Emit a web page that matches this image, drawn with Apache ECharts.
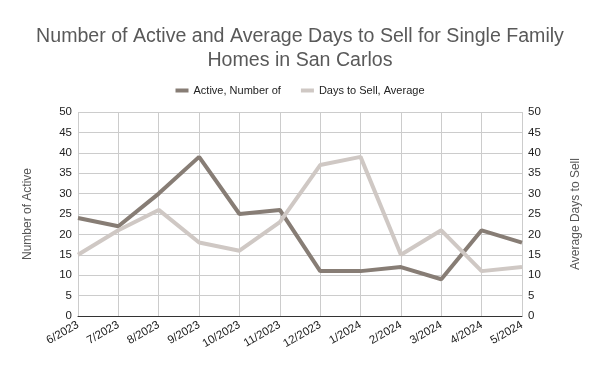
<!DOCTYPE html>
<html><head><meta charset="utf-8">
<script src="https://cdn.jsdelivr.net/npm/echarts@6/dist/echarts.min.js"></script>
<style>html,body{margin:0;padding:0;background:#fff}#c{width:600px;height:371px}</style>
</head><body><div id="c"></div>
<script>
const categories = ['6/2023','7/2023','8/2023','9/2023','10/2023','11/2023','12/2023','1/2024','2/2024','3/2024','4/2024','5/2024'];
const activeNumber = [24,22,30,39,25,26,11,11,12,9,21,18];
const daysToSell = [15,21,26,18,16,23,37,39,15,21,11,12];
const yTicks = {min:0, max:50, interval:5};

const chart = echarts.init(document.getElementById('c'));
const font = 'Liberation Sans, Arial, sans-serif';
chart.setOption({
  animation:false,
  backgroundColor:'#fff',
  title:{
    text:'Number of Active and Average Days to Sell for Single Family\nHomes in San Carlos',
    left:'center', top:20,
    textStyle:{fontFamily:font, fontSize:19.6, fontWeight:'normal', color:'#595959', lineHeight:24}
  },
  legend:{
    top:80, left:'center', itemWidth:13, itemHeight:4, itemGap:20, icon:'rect',
    textStyle:{fontFamily:font, fontSize:11, color:'#222'},
    data:['Active, Number of','Days to Sell, Average']
  },
  grid:{left:78, right:78, top:112, bottom:55, containLabel:false},
  xAxis:{
    type:'category', data:categories, boundaryGap:false,
    axisLine:{lineStyle:{color:'#333', width:1}},
    axisTick:{show:false},
    splitLine:{show:true, lineStyle:{color:'#ccc'}},
    axisLabel:{rotate:30, fontFamily:font, fontSize:11.5, color:'#222', margin:8, interval:0}
  },
  yAxis:[{
    type:'value', min:yTicks.min, max:yTicks.max, interval:yTicks.interval,
    name:'Number of Active', nameLocation:'middle', nameGap:44,
    nameTextStyle:{fontFamily:font, fontSize:12, color:'#555'},
    axisLine:{show:false}, axisTick:{show:false},
    splitLine:{lineStyle:{color:'#ccc'}},
    axisLabel:{fontFamily:font, fontSize:11.5, color:'#222', margin:6}
  },{
    type:'value', min:yTicks.min, max:yTicks.max, interval:yTicks.interval,
    name:'Average Days to Sell', nameLocation:'middle', nameGap:48,
    nameTextStyle:{fontFamily:font, fontSize:12, color:'#555'},
    axisLine:{show:false}, axisTick:{show:false},
    splitLine:{show:false},
    axisLabel:{fontFamily:font, fontSize:11.5, color:'#222', margin:6}
  }],
  series:[{
    name:'Active, Number of', type:'line', data:activeNumber, yAxisIndex:0,
    symbol:'none', lineStyle:{width:4, color:'#877d75'}, itemStyle:{color:'#877d75'}
  },{
    name:'Days to Sell, Average', type:'line', data:daysToSell, yAxisIndex:1,
    symbol:'none', lineStyle:{width:4, color:'#cfc8c4'}, itemStyle:{color:'#cfc8c4'}
  }]
});
</script></body></html>
